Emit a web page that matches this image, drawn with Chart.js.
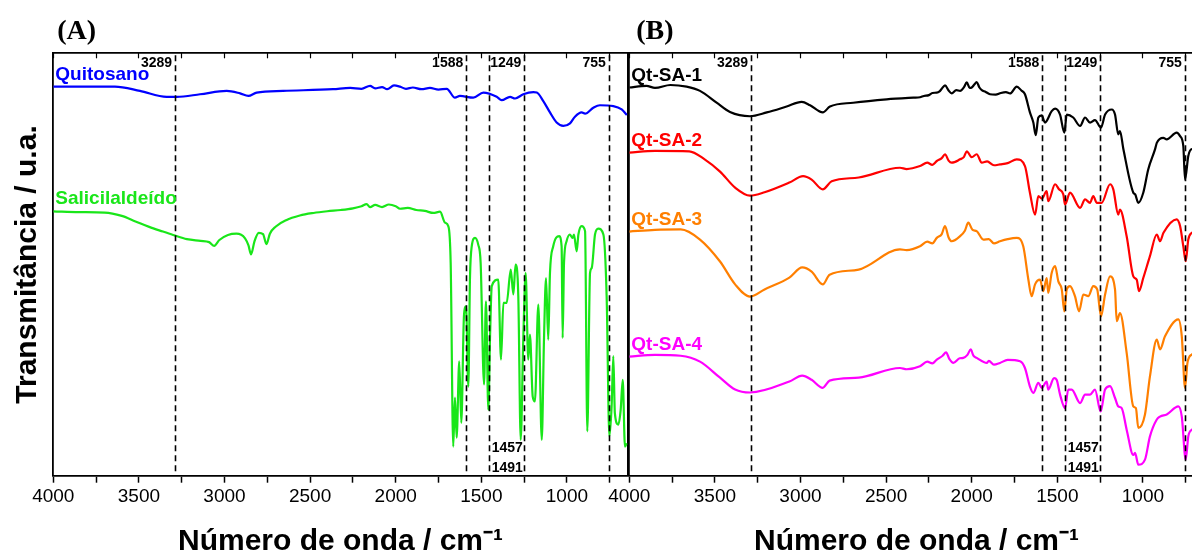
<!DOCTYPE html>
<html>
<head>
<meta charset="utf-8">
<script src="https://cdn.jsdelivr.net/npm/chart.js@4.4.0/dist/chart.umd.min.js"></script>
<style>
  html, body { margin: 0; padding: 0; overflow: hidden; background: #fff; width: 1192px; height: 555px; }
  canvas { position: absolute; top: 0; }
  #panelA { left: 0; }
  #panelB { left: 576px; }
</style>
</head>
<body>
<canvas id="panelA" width="640" height="555"></canvas>
<canvas id="panelB" width="640" height="555"></canvas>
<script>
// FTIR spectra, [wavenumber (cm-1), transmittance (a.u.)]
const quitosano = [[4000,92.1],[3800,92.1],[3640,92.1],[3494,91.1],[3338,89.7],[3279,89.7],[3143,90.3],[2987,91.1],[2909,90.5],[2861,89.9],[2812,90.7],[2658,91.1],[2366,91.5],[2266,91.8],[2200,91.6],[2150,92.3],[2120,91.7],[2080,92.0],[2050,91.5],[2010,92.4],[1975,92.1],[1940,91.6],[1900,91.9],[1850,91.5],[1800,91.8],[1750,91.4],[1702,91.6],[1654,89.5],[1625,89.9],[1547,89.5],[1488,90.7],[1410,89.7],[1381,88.9],[1332,89.7],[1303,89.3],[1255,90.3],[1196,90.8],[1176,90.7],[1138,88.7],[1099,86.0],[1060,83.6],[1021,82.8],[982,83.4],[953,85.0],[914,86.0],[894,85.7],[846,87.1],[807,87.7],[729,87.5],[680,86.7],[650,85.4]];

const salicilaldeido = [[4000,62.6],[3850,62.4],[3700,62.3],[3600,61.5],[3520,60.2],[3440,58.9],[3360,57.8],[3300,57.0],[3220,56.0],[3140,55.6],[3090,55.3],[3060,54.4],[3030,55.8],[2980,57.0],[2930,57.3],[2880,56.2],[2860,54.5],[2845,52.4],[2825,55.5],[2800,57.5],[2775,57.2],[2755,54.8],[2735,57.3],[2700,59.0],[2640,60.5],[2560,61.6],[2480,62.2],[2400,62.6],[2320,62.9],[2250,63.3],[2200,63.8],[2170,64.3],[2150,63.6],[2120,64.1],[2080,63.6],[2040,64.2],[2000,63.8],[1975,63.2],[1930,63.4],[1880,62.9],[1830,62.7],[1780,62.2],[1741,62.5],[1712,59.9],[1693,59.1],[1679,50.4],[1664,6.9],[1654,18.5],[1644,9.0],[1629,27.1],[1617,12.5],[1601,38.1],[1589,40.1],[1576,21.1],[1566,47.2],[1556,54.3],[1537,56.3],[1518,54.7],[1504,50.4],[1484,21.6],[1473,41.3],[1459,15.6],[1449,33.0],[1439,44.9],[1401,46.4],[1385,27.5],[1371,40.9],[1352,40.9],[1328,48.8],[1313,42.9],[1300,50.0],[1284,42.5],[1270,8.5],[1255,32.2],[1241,48.0],[1226,27.5],[1216,33.4],[1200,18.8],[1187,17.6],[1167,40.5],[1147,8.5],[1134,32.2],[1122,46.8],[1109,32.2],[1099,48.0],[1080,54.3],[1045,56.7],[1031,54.3],[1025,32.6],[1017,50.4],[1002,55.5],[983,57.1],[967,56.3],[959,57.1],[943,53.1],[933,57.1],[914,59.1],[894,57.9],[881,10.5],[865,48.0],[855,49.2],[836,57.1],[817,58.5],[787,57.1],[768,42.5],[752,9.3],[739,16.4],[729,28.3],[720,14.8],[700,12.1],[686,15.6],[674,22.7],[661,6.9],[651,7.7]];

const qtSa1 = [[4000,91.9],[3900,92.3],[3850,91.8],[3760,92.5],[3665,92.1],[3587,91.1],[3490,88.3],[3412,86.1],[3295,85.1],[3197,86.0],[3081,87.4],[2993,88.5],[2944,87.7],[2870,86.0],[2828,87.4],[2692,88.3],[2497,89.1],[2341,89.5],[2302,89.6],[2280,89.9],[2250,90.1],[2230,90.6],[2204,90.7],[2190,90.9],[2175,91.6],[2156,92.4],[2135,91.2],[2117,90.5],[2090,91.3],[2068,91.1],[2045,92.0],[2029,93.1],[2012,91.8],[2000,91.9],[1985,92.6],[1971,93.2],[1955,91.9],[1941,91.3],[1920,90.9],[1893,90.3],[1860,90.2],[1830,90.6],[1800,90.8],[1776,90.5],[1737,92.1],[1710,91.2],[1689,90.3],[1660,86.0],[1640,83.6],[1626,80.6],[1611,84.8],[1591,85.3],[1572,83.6],[1533,86.3],[1513,86.9],[1484,85.5],[1459,81.2],[1445,85.5],[1407,84.8],[1367,82.8],[1338,84.8],[1309,83.6],[1280,84.2],[1245,82.4],[1221,85.5],[1182,86.7],[1163,85.5],[1144,80.8],[1134,81.6],[1114,77.3],[1056,67.0],[1045,66.6],[1027,64.6],[998,67.0],[969,72.5],[929,77.3],[919,78.8],[881,80.0],[861,79.6],[803,81.2],[783,80.4],[764,78.0],[754,70.1],[735,75.7],[714,77.3],[680,76.5]];

const qtSa2 = [[4000,76.5],[3850,76.9],[3650,76.8],[3560,74.9],[3470,72.0],[3382,68.2],[3295,66.3],[3210,67.1],[3065,69.4],[2985,70.9],[2935,70.1],[2870,67.8],[2818,69.7],[2660,70.6],[2419,72.9],[2380,72.6],[2302,73.3],[2260,74.1],[2230,73.6],[2204,74.5],[2175,75.2],[2156,76.1],[2135,74.6],[2117,74.1],[2068,74.9],[2045,75.5],[2029,76.8],[2000,75.4],[1971,76.1],[1941,74.1],[1910,74.4],[1870,73.5],[1835,73.7],[1790,74.0],[1737,74.9],[1689,73.3],[1660,67.0],[1630,61.8],[1611,66.2],[1590,65.6],[1562,67.4],[1553,65.0],[1513,69.0],[1490,67.8],[1465,66.6],[1455,64.2],[1426,67.0],[1367,63.4],[1338,65.4],[1309,64.6],[1290,66.2],[1270,64.6],[1241,64.6],[1192,69.0],[1173,67.8],[1144,61.8],[1134,63.0],[1095,56.7],[1056,47.2],[1036,46.4],[1023,43.7],[998,46.8],[959,52.0],[919,57.1],[900,55.5],[880,57.5],[803,60.7],[783,59.1],[764,54.3],[750,50.8],[735,55.9],[714,57.5],[680,58.0]];

const qtSa3 = [[4000,57.8],[3850,58.2],[3700,58.3],[3587,55.9],[3470,50.7],[3382,45.3],[3295,42.4],[3210,44.1],[3065,46.9],[2990,49.3],[2935,48.3],[2870,45.3],[2830,47.6],[2660,48.8],[2419,53.6],[2380,53.4],[2302,54.3],[2260,55.4],[2230,55.0],[2204,56.3],[2175,57.2],[2156,59.1],[2135,56.4],[2117,55.5],[2068,56.7],[2040,58.0],[2020,59.9],[1995,58.2],[1971,57.9],[1932,55.9],[1900,56.0],[1870,55.0],[1835,55.5],[1790,56.0],[1737,56.3],[1699,54.3],[1669,46.4],[1650,42.5],[1630,45.3],[1601,46.4],[1582,43.7],[1562,46.8],[1553,43.3],[1533,48.0],[1513,49.6],[1494,46.0],[1474,44.1],[1459,38.9],[1445,44.1],[1426,44.9],[1397,42.5],[1373,38.9],[1348,42.9],[1319,42.5],[1290,44.9],[1267,44.1],[1245,37.7],[1221,42.9],[1192,47.2],[1163,44.1],[1153,36.6],[1134,38.5],[1095,29.1],[1056,16.4],[1041,16.0],[1027,11.3],[988,14.5],[959,23.5],[919,32.2],[900,29.9],[871,33.0],[793,37.0],[773,33.0],[754,20.8],[740,26.7],[714,28.7],[680,29.5]];

const qtSa4 = [[4000,28.2],[3850,28.6],[3700,28.4],[3587,27.0],[3470,23.2],[3382,20.4],[3295,19.7],[3065,22.3],[2990,23.7],[2935,22.7],[2870,20.8],[2830,22.5],[2660,23.2],[2419,25.5],[2380,25.2],[2302,25.9],[2260,27.0],[2230,26.6],[2204,27.5],[2170,28.4],[2150,29.2],[2130,27.6],[2107,26.7],[2070,27.8],[2049,27.9],[2025,28.6],[2006,29.9],[1990,28.4],[1971,27.9],[1912,26.7],[1900,27.2],[1870,26.3],[1835,26.7],[1790,27.4],[1718,27.1],[1689,25.5],[1660,21.1],[1640,19.6],[1611,22.0],[1591,20.8],[1562,22.3],[1553,20.4],[1519,23.1],[1504,22.7],[1484,19.2],[1455,16.0],[1436,20.4],[1416,20.4],[1367,17.2],[1338,19.2],[1309,19.2],[1280,20.4],[1247,15.2],[1221,20.4],[1192,21.2],[1163,18.4],[1144,16.4],[1124,16.0],[1095,10.9],[1056,4.9],[1046,5.4],[1027,2.6],[988,3.8],[959,9.3],[919,13.3],[900,14.0],[861,14.5],[793,16.4],[773,14.0],[750,3.8],[735,9.3],[714,10.9],[680,11.5]];

// marked bands (dashed lines), labelled above; two extra labels below the 1457 line
const bandLines = [3289, 1588, 1457, 1249, 755];
const topBandLabels = [3289, 1588, 1249, 755];
const lowBandLabels = [1457, 1491];

const xTicks = [4000, 3500, 3000, 2500, 2000, 1500, 1000];

const FONT = '"Liberation Sans", Arial, Helvetica, sans-serif';
Chart.defaults.font.family = FONT;
Chart.defaults.color = '#000';

function toPoints(arr) {
  return arr.map(p => ({x: p[0], y: p[1]}));
}

function spectrum(label, arr, color) {
  return {
    label: label,
    data: toPoints(arr),
    borderColor: color,
    borderWidth: 2.2,
    pointRadius: 0,
    cubicInterpolationMode: 'monotone',
    fill: false
  };
}

// panel letter, dashed band markers, band numbers and curve names
const annotate = {
  id: 'annotate',
  afterDatasetsDraw(chart, args, opts) {
    const {ctx, chartArea: a} = chart;
    const x = chart.scales.x, y = chart.scales.y;
    ctx.save();
    ctx.fillStyle = '#000';
    ctx.font = 'bold 28px "Liberation Serif", "Times New Roman", serif';
    ctx.textBaseline = 'middle';
    ctx.textAlign = 'left';
    ctx.fillText(opts.letter, a.left + (opts.indent || 4), 32);

    ctx.beginPath();
    ctx.rect(a.left, a.top, a.right - a.left, a.bottom - a.top);
    ctx.clip();

    ctx.strokeStyle = '#000';
    ctx.lineWidth = 1.6;
    ctx.setLineDash([6, 4]);
    bandLines.forEach(w => {
      const px = Math.round(x.getPixelForValue(w)) + 0.5;
      ctx.beginPath();
      ctx.moveTo(px, a.top + 2);
      ctx.lineTo(px, a.bottom);
      ctx.stroke();
    });
    ctx.setLineDash([]);

    ctx.font = 'bold 14px ' + FONT;
    ctx.textAlign = 'right';
    topBandLabels.forEach(w => {
      ctx.fillText(String(w), x.getPixelForValue(w) - 3, a.top + 10);
    });
    ctx.textAlign = 'left';
    const lowX = x.getPixelForValue(lowBandLabels[0]) + 3;
    lowBandLabels.forEach((w, i) => {
      ctx.fillText(String(w), lowX, a.bottom - 28 + i * 20);
    });

    ctx.font = 'bold 19px ' + FONT;
    ctx.textBaseline = 'alphabetic';
    chart.data.datasets.forEach(ds => {
      ctx.fillStyle = ds.borderColor;
      ctx.fillText(ds.label, a.left + 2, y.getPixelForValue(ds.data[0].y) - 7);
    });
    ctx.restore();
  }
};

function keepQuarterSteps(scale) {
  scale.ticks = scale.ticks.filter(t => t.value % 250 === 0);
}

function panelOptions(letter, indent, yTitle) {
  return {
    responsive: false,
    animation: false,
    devicePixelRatio: 1,
    layout: {padding: {top: 53.3, right: 12.3, bottom: 0, left: 0}},
    plugins: {
      legend: {display: false},
      tooltip: {enabled: false},
      annotate: {letter: letter, indent: indent}
    },
    scales: {
      x: {
        type: 'linear',
        position: 'bottom',
        min: 645,
        max: 4000,
        reverse: true,
        afterBuildTicks: keepQuarterSteps,
        afterFit: s => { s.height = 79.3; },
        ticks: {
          stepSize: 250,
          includeBounds: false,
          autoSkip: false,
          maxRotation: 0,
          padding: 3,
          font: {size: 19},
          color: '#000',
          callback: v => xTicks.includes(v) ? String(v) : ''
        },
        grid: {drawOnChartArea: false, drawTicks: true, tickLength: 7, tickWidth: 1.5, color: '#000'},
        border: {display: true, color: '#000', width: 1.8},
        title: {
          display: true,
          text: 'Número de onda / cm⁻¹',
          color: '#000',
          font: {size: 30, weight: 'bold'},
          padding: {top: 0, bottom: -5}
        }
      },
      x2: {
        type: 'linear',
        position: 'top',
        min: 645,
        max: 4000,
        reverse: true,
        afterBuildTicks: keepQuarterSteps,
        afterFit: s => { s.height = 0; },
        ticks: {stepSize: 250, includeBounds: false, display: false},
        grid: {drawOnChartArea: false, drawTicks: true, tickLength: -5, tickWidth: 1.2, color: '#000'},
        border: {display: true, color: '#000', width: 1.8}
      },
      y: {
        position: 'left',
        min: 0,
        max: 100,
        afterFit: s => { s.width = 53.3; },
        ticks: {display: false},
        grid: {display: true, drawOnChartArea: false, drawTicks: false},
        border: {display: true, color: '#000', width: 1.8},
        title: {
          display: !!yTitle,
          text: yTitle || '',
          color: '#000',
          font: {size: 30, weight: 'bold'},
          padding: {top: 10, bottom: 0}
        }
      },
      y2: {
        position: 'right',
        min: 0,
        max: 100,
        afterFit: s => { s.width = 0; },
        ticks: {display: false},
        grid: {display: true, drawOnChartArea: false, drawTicks: false},
        border: {display: true, color: '#000', width: 1.8}
      }
    }
  };
}

new Chart(document.getElementById('panelA'), {
  type: 'line',
  data: {
    datasets: [
      spectrum('Quitosano', quitosano, '#0000ff'),
      spectrum('Salicilaldeído', salicilaldeido, '#19e619')
    ]
  },
  options: panelOptions('(A)', 4, 'Transmitância / u.a.'),
  plugins: [annotate]
});

new Chart(document.getElementById('panelB'), {
  type: 'line',
  data: {
    datasets: [
      spectrum('Qt-SA-1', qtSa1, '#000000'),
      spectrum('Qt-SA-2', qtSa2, '#ff0000'),
      spectrum('Qt-SA-3', qtSa3, '#ff7f00'),
      spectrum('Qt-SA-4', qtSa4, '#ff00ff')
    ]
  },
  options: panelOptions('(B)', 7, null),
  plugins: [annotate]
});
</script>
</body>
</html>
